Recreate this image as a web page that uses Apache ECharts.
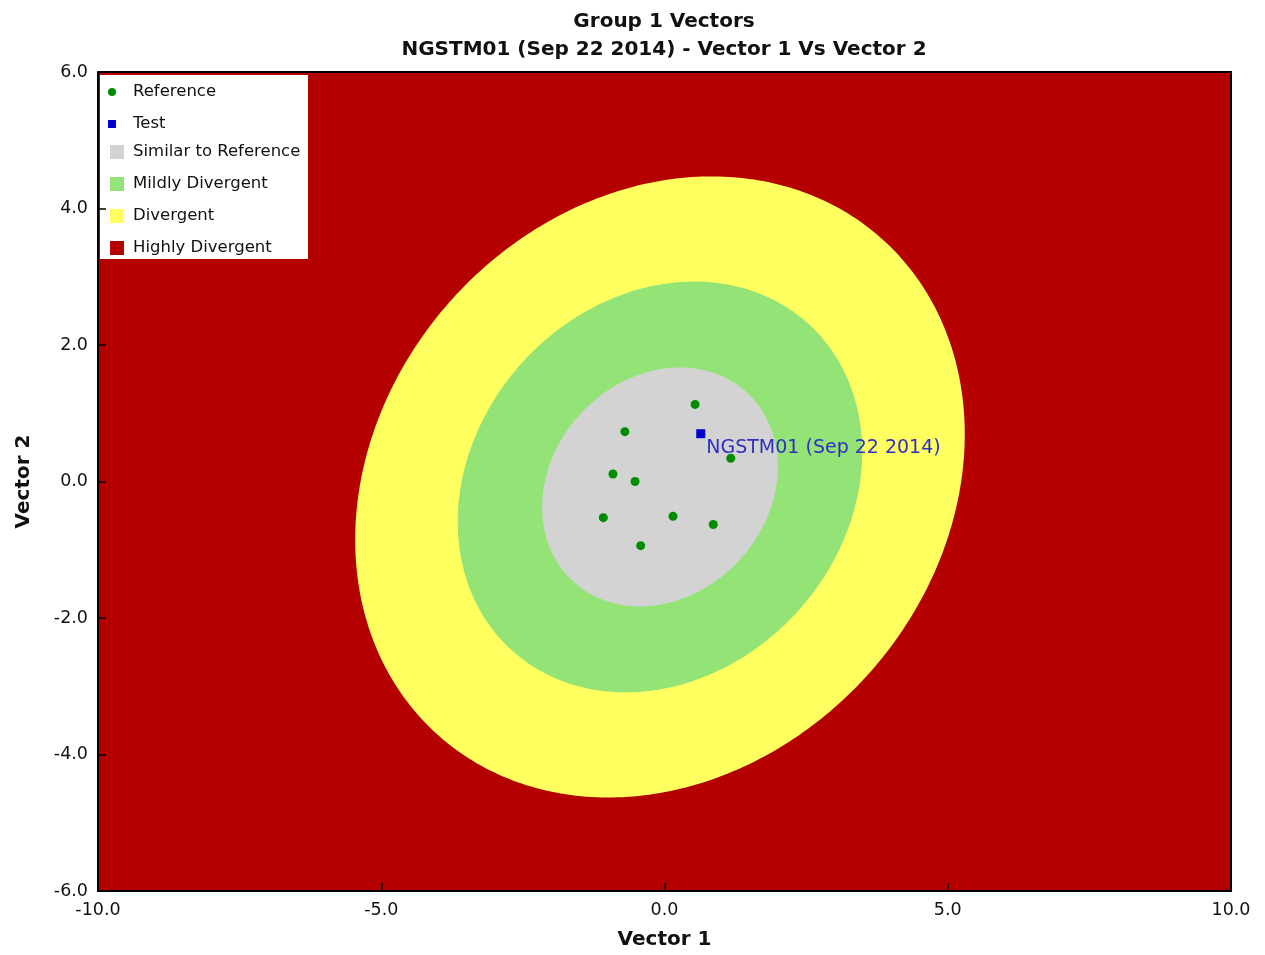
<!DOCTYPE html>
<html>
<head>
<meta charset="utf-8">
<script src="https://cdn.jsdelivr.net/npm/echarts@6/dist/echarts.min.js"></script>
<style>
  html, body { margin: 0; padding: 0; background: #fff; }
  #chart { width: 1265px; height: 955px; }
</style>
</head>
<body>
<div id="chart"></div>
<script>
// Reference samples (Vector 1, Vector 2)
const referenceX = [0.54, -0.70, -0.91, -0.52, -1.08, 0.15, 0.86, -0.42, 1.17];
const referenceY = [1.13, 0.73, 0.11, 0.00, -0.53, -0.51, -0.63, -0.94, 0.34];

// Test sample
const testPoint = [0.64, 0.70];
const testLabel = 'NGSTM01 (Sep 22 2014)';

// Divergence zones, outermost first; the first zone fills the whole plane
const zoneNames = ['Highly Divergent', 'Divergent', 'Mildly Divergent', 'Similar to Reference'];
const zoneColors = ['#B50000', '#FFFF60', '#94E376', '#D3D3D3'];
const zoneHalfWidth = [null, 5.38, 3.57, 2.08];   // half extent along Vector 1
const zoneHalfHeight = [null, 4.55, 3.01, 1.75];  // half extent along Vector 2
const zoneCenter = [-0.08, -0.08];
const zoneCorrelation = 0.17;

// Axis ranges and tick steps
const xRange = [-10, 10];
const yRange = [-6, 6];
const xStep = 5;
const yStep = 2;

const FONT = 'DejaVu Sans';
const TEXT = '#111';

function planeItem(params, api) {
  const p0 = api.coord([xRange[0], yRange[1]]);
  const p1 = api.coord([xRange[1], yRange[0]]);
  return {
    type: 'rect',
    shape: { x: p0[0], y: p0[1], width: p1[0] - p0[0], height: p1[1] - p0[1] },
    style: { fill: api.visual('color') }
  };
}

function ellipseItem(a, b) {
  return function (params, api) {
    const cx = api.value(0), cy = api.value(1);
    const k = Math.sqrt(1 - zoneCorrelation * zoneCorrelation);
    const pts = [];
    const n = 360;
    for (let i = 0; i < n; i++) {
      const t = 2 * Math.PI * i / n;
      const x = cx + a * Math.cos(t);
      const y = cy + b * (zoneCorrelation * Math.cos(t) + k * Math.sin(t));
      pts.push(api.coord([x, y]));
    }
    return { type: 'polygon', shape: { points: pts }, style: { fill: api.visual('color') } };
  };
}

const zoneSeries = zoneNames.map((name, i) => ({
  name: name,
  type: 'custom',
  coordinateSystem: 'cartesian2d',
  itemStyle: { color: zoneColors[i], opacity: 1 },
  renderItem: zoneHalfWidth[i] === null ? planeItem : ellipseItem(zoneHalfWidth[i], zoneHalfHeight[i]),
  data: [[zoneCenter[0], zoneCenter[1]]],
  silent: true,
  z: 1
}));

const fmt = v => v.toFixed(1);

const option = {
  animation: false,
  backgroundColor: '#fff',
  title: {
    text: 'Group 1 Vectors\nNGSTM01 (Sep 22 2014) - Vector 1 Vs Vector 2',
    left: 664,
    top: 8,
    padding: 0,
    textAlign: 'center',
    textStyle: { fontFamily: FONT, fontSize: 20, fontWeight: 'bold', color: TEXT, lineHeight: 28 }
  },
  grid: { left: 98, right: 34, top: 72, bottom: 62, containLabel: false },
  graphic: [{
    type: 'rect', left: 100, top: 75, z: 10,
    shape: { width: 208, height: 184 },
    style: { fill: '#fff' }
  }],
  legend: [{
    orient: 'vertical', left: 108, top: 81, padding: 0, z: 20,
    itemWidth: 8, itemHeight: 8, itemGap: 10, selectedMode: false,
    data: [{ name: 'Reference', icon: 'circle' }, { name: 'Test', icon: 'rect' }],
    textStyle: { fontFamily: FONT, fontSize: 16.5, color: TEXT, lineHeight: 20, padding: [2, 0, 0, 12] }
  }, {
    orient: 'vertical', left: 110, top: 141, padding: 0, z: 20,
    itemWidth: 14, itemHeight: 14, itemGap: 10, selectedMode: false, icon: 'rect',
    data: ['Similar to Reference', 'Mildly Divergent', 'Divergent', 'Highly Divergent'],
    textStyle: { fontFamily: FONT, fontSize: 16.5, color: TEXT, lineHeight: 20, padding: [2, 0, 0, 4] }
  }],
  xAxis: [{
    type: 'value', position: 'bottom', min: xRange[0], max: xRange[1], interval: xStep, z: 10,
    axisLine: { show: true, onZero: false, lineStyle: { color: '#000', width: 2 } },
    axisTick: { show: true, inside: true, length: 8, lineStyle: { color: '#000', width: 1.5 } },
    axisLabel: { formatter: fmt, fontFamily: FONT, fontSize: 17.5, color: TEXT, margin: 10 },
    splitLine: { show: false },
    name: 'Vector 1', nameLocation: 'middle', nameGap: 39,
    nameTextStyle: { fontFamily: FONT, fontSize: 20, fontWeight: 'bold', color: TEXT }
  }, {
    type: 'value', position: 'top', min: xRange[0], max: xRange[1], interval: xStep, z: 10,
    axisLine: { show: true, onZero: false, lineStyle: { color: '#000', width: 2 } },
    axisTick: { show: false }, axisLabel: { show: false }, splitLine: { show: false }
  }],
  yAxis: [{
    type: 'value', position: 'left', min: yRange[0], max: yRange[1], interval: yStep, z: 10,
    axisLine: { show: true, onZero: false, lineStyle: { color: '#000', width: 2 } },
    axisTick: { show: true, inside: true, length: 8, lineStyle: { color: '#000', width: 1.5 } },
    axisLabel: { formatter: fmt, fontFamily: FONT, fontSize: 17.5, color: TEXT, margin: 10 },
    splitLine: { show: false },
    name: 'Vector 2', nameLocation: 'middle', nameGap: 64,
    nameTextStyle: { fontFamily: FONT, fontSize: 20, fontWeight: 'bold', color: TEXT }
  }, {
    type: 'value', position: 'right', min: yRange[0], max: yRange[1], interval: yStep, z: 10,
    axisLine: { show: true, onZero: false, lineStyle: { color: '#000', width: 2 } },
    axisTick: { show: false }, axisLabel: { show: false }, splitLine: { show: false }
  }],
  series: zoneSeries.concat([{
    name: 'Reference',
    type: 'scatter',
    symbol: 'circle',
    symbolSize: 9,
    itemStyle: { color: '#008C00', opacity: 1 },
    data: referenceX.map((x, i) => [x, referenceY[i]]),
    z: 5
  }, {
    name: 'Test',
    type: 'scatter',
    symbol: 'rect',
    symbolSize: 9,
    itemStyle: { color: '#0000CC', opacity: 1 },
    data: [testPoint],
    label: {
      show: true,
      formatter: testLabel,
      position: [10, 19],
      align: 'left',
      verticalAlign: 'middle',
      fontFamily: FONT,
      fontSize: 19,
      color: '#3030C0'
    },
    z: 6
  }])
};

const chart = echarts.init(document.getElementById('chart'), null, { renderer: 'canvas' });
chart.setOption(option);
</script>
</body>
</html>
